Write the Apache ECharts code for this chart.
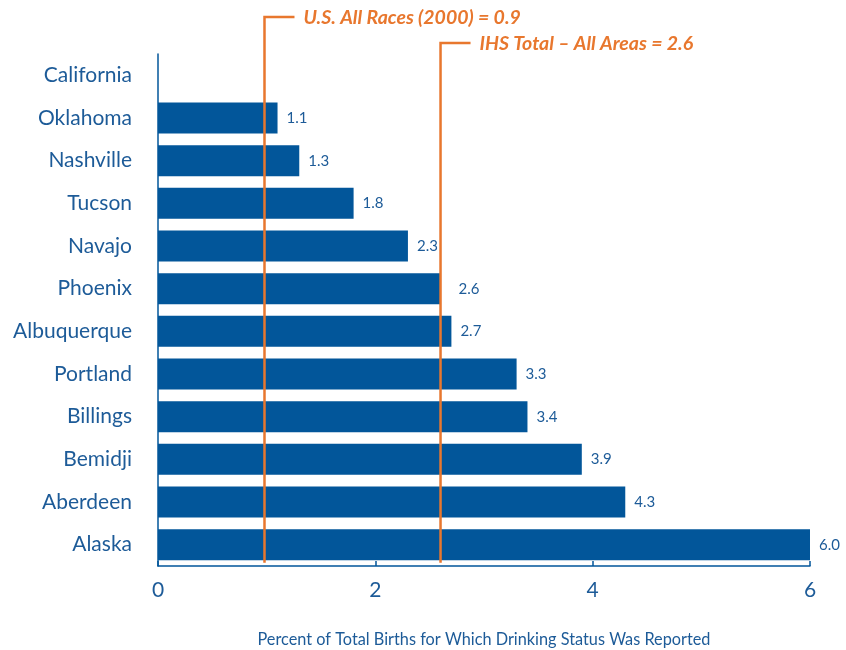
<!DOCTYPE html>
<html>
<head>
<meta charset="utf-8">
<script src="https://cdn.jsdelivr.net/npm/echarts@6/dist/echarts.min.js"></script>
<style>
  html, body { margin: 0; padding: 0; background: #fff; }
  #chart { width: 846px; height: 650px; }
</style>
</head>
<body>
<div id="chart"></div>
<script>
// areas, top to bottom as drawn
const areas = ['California', 'Oklahoma', 'Nashville', 'Tucson', 'Navajo', 'Phoenix',
  'Albuquerque', 'Portland', 'Billings', 'Bemidji', 'Aberdeen', 'Alaska'];
const percents = [null, 1.1, 1.3, 1.8, 2.3, 2.6, 2.7, 3.3, 3.4, 3.9, 4.3, 6.0];

// reference lines (drawn position on the axis) and their captions
const refValues = [0.98, 2.6];
const refLabels = ['U.S. All Races (2000) = 0.9', 'IHS Total \u2013 All Areas = 2.6'];
const refTops = [17, 43];

const blue = '#02569a';
const textBlue = '#1d5b98';
const orange = '#e8772e';
const font = 'Lato, "Open Sans", sans-serif';

const chart = echarts.init(document.getElementById('chart'));

chart.setOption({
  animation: false,
  textStyle: { fontFamily: font },
  grid: { left: 158, right: 36, top: 54, bottom: 84, containLabel: false, outerBoundsMode: 'none' },
  xAxis: {
    type: 'value',
    min: 0,
    max: 6,
    interval: 2,
    name: 'Percent of Total Births for Which Drinking Status Was Reported',
    nameLocation: 'middle',
    nameGap: 66,
    nameTextStyle: { color: textBlue, fontSize: 16.3, fontFamily: font },
    axisLine: { show: true, lineStyle: { color: blue, width: 1.5 } },
    axisTick: { show: true, inside: true, length: 5, lineStyle: { color: blue, width: 1.5 } },
    axisLabel: { color: textBlue, fontSize: 21, margin: 14, fontFamily: font },
    splitLine: { show: false }
  },
  yAxis: {
    type: 'category',
    inverse: true,
    data: areas,
    axisLine: { show: true, lineStyle: { color: blue, width: 1.5 } },
    axisTick: { show: false },
    axisLabel: { color: textBlue, fontSize: 21, margin: 26, fontFamily: font }
  },
  series: [{
    type: 'bar',
    data: percents.map((v, i) => ({
      value: v,
      label: { distance: areas[i] === 'Phoenix' ? 18 : 9 }
    })),
    barWidth: 31,
    itemStyle: { color: blue },
    label: {
      show: true,
      position: 'right',
      color: textBlue,
      fontSize: 15,
      fontFamily: font,
      formatter: p => p.value == null ? '' : p.value.toFixed(1)
    },
    z: 2
  }]
});

// orange reference lines with bracket captions, positioned through the x scale
function drawRefs() {
  const bottom = chart.convertToPixel({ yAxisIndex: 0 }, areas[areas.length - 1]) + 18;
  const elements = [];
  refValues.forEach((v, i) => {
    const x = chart.convertToPixel({ xAxisIndex: 0 }, v);
    const top = refTops[i];
    elements.push({
      type: 'polyline',
      z: 10,
      shape: { points: [[x + 30, top], [x, top], [x, bottom]] },
      style: { stroke: orange, lineWidth: 2.5, fill: null }
    });
    elements.push({
      type: 'text',
      z: 10,
      x: x + 39,
      y: top + 1,
      style: {
        text: refLabels[i],
        fill: orange,
        font: 'italic bold 19.5px ' + font,
        verticalAlign: 'middle'
      }
    });
  });
  chart.setOption({ graphic: elements });
}
drawRefs();
</script>
</body>
</html>
